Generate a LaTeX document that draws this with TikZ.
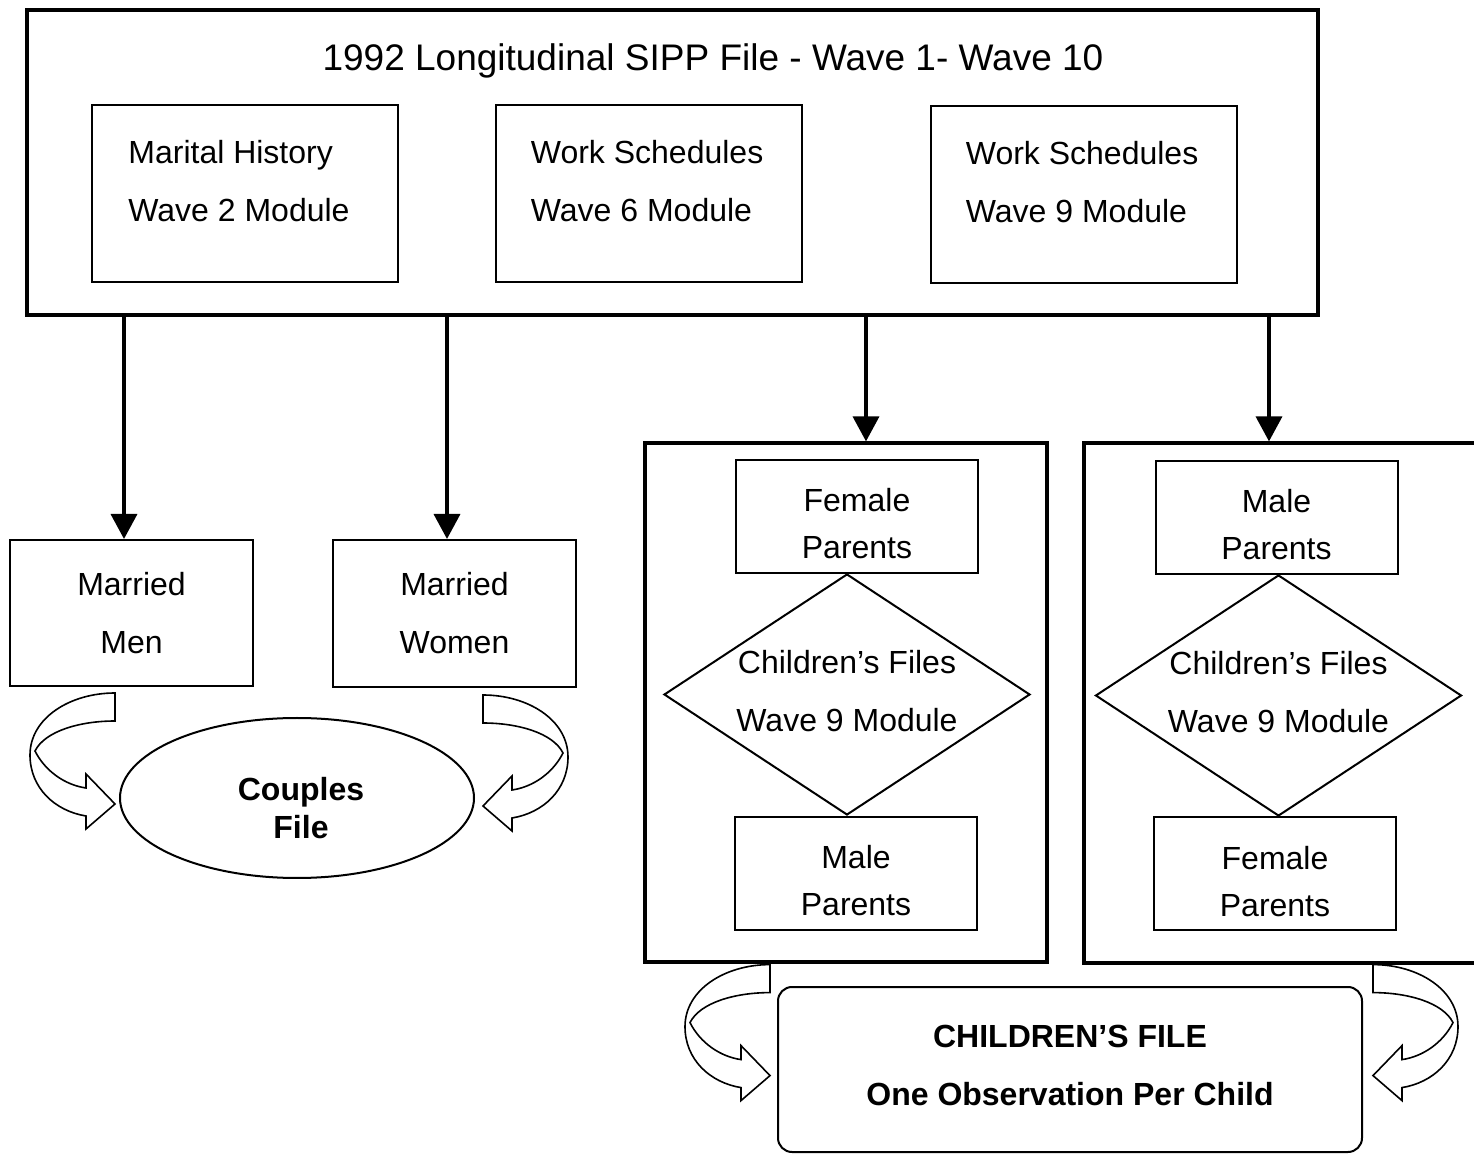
\documentclass[tikz,border=0pt]{standalone}
\usepackage{fontspec}
\setmainfont{Liberation Sans}
\usetikzlibrary{shapes.geometric, arrows.meta, positioning}

% pushes the first line of a box down a little
\newcommand{\padtop}{\rule{0pt}{18.7pt}}

% curved block arrow, origin at the top of its tail
\tikzset{
  bentarrow/.pic={
    \draw[bendline] (0,0) -- (0,28)
      .. controls (-35,28) and (-70,38) .. (-80,58)
      .. controls (-70,78) and (-50,92) .. (-29,95)
      -- (-29,81) -- (0,111) -- (-29,136) -- (-29,123)
      .. controls (-60,118) and (-85,95) .. (-85,62)
      .. controls (-85,25) and (-45,0) .. (0,0) -- cycle;
  }
}

\begin{document}
\begin{tikzpicture}[
    x=0.5pt, y=-0.5pt,
    font=\fontsize{16}{29}\selectfont,
    bigbox/.style={rectangle, draw, line width=1.6pt, inner sep=0pt},
    box/.style={rectangle, draw, line width=1pt, inner sep=0pt, align=center},
    modbox/.style={box, minimum width=153pt, minimum height=88.5pt},
    parbox/.style={box, minimum width=121pt, minimum height=56.5pt, font=\fontsize{16}{23.5}\selectfont},
    diam/.style={diamond, draw, line width=1pt, inner sep=0pt, aspect=1.6, minimum width=183pt, minimum height=120.5pt, align=center,
                 execute at end node={\rule[-3.5pt]{0pt}{0pt}}},
    txt/.style={inner sep=0pt, align=left},
    arrow/.style={-{Triangle[width=13pt, length=12.5pt]}, line width=1.8pt},
    bendline/.style={fill=white, line width=0.8pt, line join=miter}
]
\path[use as bounding box, fill=white] (0,0) rectangle (1474,1154);

% --- TOP FILE ---
\node (sipp) [bigbox, minimum width=645.5pt, minimum height=152.5pt] at (672.5,162.5) {};
\node (title) [font=\fontsize{18.5}{22}\selectfont] at (713,61) {1992 Longitudinal SIPP File - Wave 1- Wave 10};

\node (marital) [modbox] at (245,193.5) {};
\node (work6) [modbox] at (648.5,193.5) {};
\node (work9) [modbox] at (1083.5,194.5) {};
\node (maritaltxt) [txt, anchor=west] at ([xshift=18.5pt, yshift=6.25pt]marital.west) {Marital History\\Wave 2 Module};
\node (work6txt) [txt, anchor=west] at ([xshift=18pt, yshift=6.25pt]work6.west) {Work Schedules\\Wave 6 Module};
\node (work9txt) [txt, anchor=west] at ([xshift=18pt, yshift=6.25pt]work9.west) {Work Schedules\\Wave 9 Module};

% --- COUPLES ---
\node (men) [box, minimum width=121.5pt, minimum height=73pt] at (131.5,613) {Married\\Men};
\node (women) [box, minimum width=121.5pt, minimum height=73.5pt] at (454.5,613.5) {Married\\Women};
\node (couples) [ellipse, draw, line width=1pt, minimum width=177pt, minimum height=80pt] at (297,798) {};
\node (couplestxt) [font=\bfseries\fontsize{16}{19}\selectfont, align=center] at (301,808) {Couples\\File};

% --- PARENTS ---
\node (grpL) [bigbox, minimum width=201pt, minimum height=259.5pt] at (846,702.5) {};
\node (grpR) [bigbox, minimum width=201pt, minimum height=260pt] at (1285,703) {};

\node (femL) [parbox] at (857,516.5) {\padtop Female\\Parents};
\node (diaL) [diam] at (847,694.5) {Children's Files\\Wave 9 Module};
\node (malL) [parbox] at (856,873.5) {\padtop Male\\Parents};

\node (malR) [parbox] at (1276.5,517.5) {\padtop Male\\Parents};
\node (diaR) [diam] at (1278.5,695.5) {Children's Files\\Wave 9 Module};
\node (femR) [parbox] at (1275,874) {\padtop Female\\Parents};

\node (childfile) [box, rounded corners=7pt, minimum width=292pt, minimum height=82.5pt, font=\bfseries\fontsize{16}{29}\selectfont,
                   execute at end node={\rule[-4pt]{0pt}{0pt}}] at (1070,1069.5) {CHILDREN'S FILE\\One Observation Per Child};

% --- CONNECTIONS ---
\coordinate (inmen) at ([xshift=-3.75pt]men.north);
\coordinate (inwomen) at ([xshift=-3.75pt]women.north);
\coordinate (ingrpL) at ([xshift=10pt]grpL.north);
\coordinate (ingrpR) at ([xshift=-8pt]grpR.north);
\draw [arrow] (inmen |- sipp.south) -- (inmen);
\draw [arrow] (inwomen |- sipp.south) -- (inwomen);
\draw [arrow] (ingrpL |- sipp.south) -- (ingrpL);
\draw [arrow] (ingrpR |- sipp.south) -- (ingrpR);

% curved merge arrows
\pic at ([xshift=-8.25pt, yshift=-3pt]men.south) {bentarrow};
\pic[xscale=-1] at ([xshift=14.25pt, yshift=-3.5pt]women.south) {bentarrow};
\pic at ([xshift=-38pt, yshift=-0.5pt]grpL.south) {bentarrow};
\pic[xscale=-1] at ([xshift=44pt]grpR.south) {bentarrow};

\end{tikzpicture}
\end{document}
